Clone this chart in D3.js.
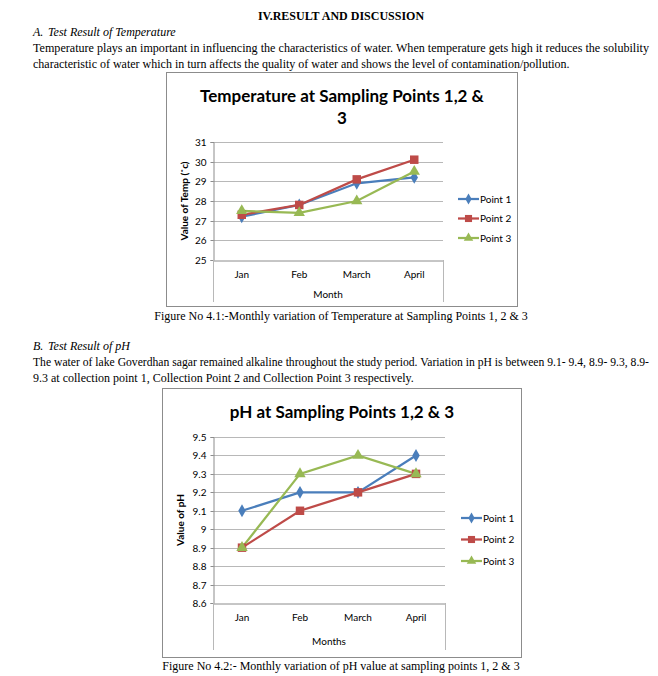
<!DOCTYPE html>
<html>
<head>
  <meta charset="utf-8">
  <script src="https://d3js.org/d3.v7.min.js"></script>
  <style>
    body { margin:0; background:#fff; }
    .doc { font-family: "Liberation Serif", "Times New Roman", serif; fill:#000; }
    .chart text { font-family: Lato, "Open Sans", sans-serif; fill:#000; }
    .grid line { stroke:#b8b8b8; }
  </style>
</head>
<body>
  <script>

    var months = ["Jan", "Feb", "March", "April"];
    var pointNames = ["Point 1", "Point 2", "Point 3"];

    var tempPoint1 = [27.2, 27.8, 28.9, 29.2];
    var tempPoint2 = [27.3, 27.8, 29.1, 30.1];
    var tempPoint3 = [27.5, 27.4, 28.0, 29.5];
    var tempTicks = [25, 26, 27, 28, 29, 30, 31];

    var phPoint1 = [9.1, 9.2, 9.2, 9.4];
    var phPoint2 = [8.9, 9.1, 9.2, 9.3];
    var phPoint3 = [8.9, 9.3, 9.4, 9.3];
    var phTicks = [8.6, 8.7, 8.8, 8.9, 9.0, 9.1, 9.2, 9.3, 9.4, 9.5];

    var colors = ["#4a7ebb", "#be4b48", "#98b954"];
    var symbols = [d3.symbolDiamond, d3.symbolSquare, d3.symbolTriangle];
    var symbolSize = [48, 72, 56];

    var svg = d3.select("body").append("svg")
        .attr("width", 658)
        .attr("height", 676);

    // ---- document text ----
    var doc = svg.append("g").attr("class", "doc");

    doc.append("text").attr("x", 341).attr("y", 20)
        .attr("text-anchor", "middle").style("font-weight", "bold").style("font-size", "12px")
        .text("IV.RESULT AND DISCUSSION");

    function para(y, lines) {
      lines.forEach(function (t, i) {
        var el = doc.append("text").attr("x", 33).attr("y", y + i * 16)
            .style("font-size", "12px").text(t);
        if (i < lines.length - 1) {
          el.attr("textLength", 616).attr("lengthAdjust", "spacingAndGlyphs");
        }
      });
    }
    function sub(y, letter, t) {
      doc.append("text").attr("x", 33).attr("y", y).style("font-size", "12px")
          .style("font-style", "italic").text(letter);
      doc.append("text").attr("x", 48).attr("y", y).style("font-size", "12px")
          .style("font-style", "italic").text(t);
    }

    sub(36, "A.", "Test Result of Temperature");
    para(52, ["Temperature plays an important in influencing the characteristics of water. When temperature gets high it reduces the solubility",
              "characteristic of water which in turn affects the quality of water and shows the level of contamination/pollution."]);

    doc.append("text").attr("x", 341).attr("y", 320).attr("text-anchor", "middle")
        .style("font-size", "12px")
        .text("Figure No 4.1:-Monthly variation of Temperature at Sampling Points 1, 2 & 3");

    sub(350, "B.", "Test Result of pH");
    para(366, ["The water of lake Goverdhan sagar remained alkaline throughout the study period. Variation in pH is between 9.1- 9.4, 8.9- 9.3, 8.9-",
               "9.3 at collection point 1, Collection Point 2 and Collection Point 3 respectively."]);

    doc.append("text").attr("x", 341).attr("y", 670).attr("text-anchor", "middle")
        .style("font-size", "12px")
        .text("Figure No 4.2:- Monthly variation of pH value at sampling points 1, 2 & 3");

    // ---- charts ----
    function drawChart(c) {
      var g = svg.append("g").attr("class", "chart");

      g.append("rect")
          .attr("x", c.frame[0] + 0.5).attr("y", c.frame[1] + 0.5)
          .attr("width", c.frame[2]).attr("height", c.frame[3])
          .attr("fill", "#fff").attr("stroke", "#8c8c8c");

      c.title.forEach(function (t, i) {
        g.append("text").attr("x", c.titleX).attr("y", c.titleY + i * 22)
            .attr("text-anchor", "middle")
            .style("font-weight", "bold").style("font-size", c.titleSize + "px")
            .text(t);
      });

      var x = d3.scaleBand().domain(months).range([c.left, c.right]);
      var y = d3.scaleLinear().domain([c.ticks[0], c.ticks[c.ticks.length - 1]])
          .range([c.bottom, c.top]);

      // gridlines
      g.append("g").attr("class", "grid")
          .selectAll("line").data(c.ticks.slice(1)).enter().append("line")
          .attr("x1", c.left).attr("x2", c.right)
          .attr("y1", function (d) { return Math.round(y(d)) + 0.5; })
          .attr("y2", function (d) { return Math.round(y(d)) + 0.5; });

      var yAxis = d3.axisLeft(y).tickValues(c.ticks).tickSize(3)
          .tickFormat(function (d) { return String(+d.toFixed(1)); });
      var ya = g.append("g")
          .attr("transform", "translate(" + (c.left + 0.5) + ",0)")
          .call(yAxis);
      ya.select(".domain").attr("stroke", "#8c8c8c");
      ya.selectAll(".tick line").attr("stroke", "#8c8c8c");
      ya.selectAll(".tick text").style("font-size", "10px").attr("x", -7);
      ya.selectAll(".tick").attr("transform", function (d) {
        return "translate(0," + (Math.round(y(d)) + 0.5) + ")";
      });

      var xAxis = d3.axisBottom(x).tickSize(0).tickPadding(10);
      var xa = g.append("g")
          .attr("transform", "translate(0," + (Math.round(c.bottom) + 0.5) + ")")
          .call(xAxis);
      xa.select(".domain").attr("stroke", "#8c8c8c");
      xa.selectAll(".tick text").style("font-size", "10px");

      // extended category divider lines
      [c.left, c.right].forEach(function (px) {
        g.append("line").attr("x1", px + 0.5).attr("x2", px + 0.5)
            .attr("y1", c.bottom).attr("y2", c.groupBottom)
            .attr("stroke", "#b8b8b8");
      });

      g.append("text").attr("x", (c.left + c.right) / 2).attr("y", c.xTitleY)
          .attr("text-anchor", "middle").style("font-size", "10px").text(c.xTitle);

      g.append("text")
          .attr("transform", "translate(" + c.yTitleX + "," + ((c.top + c.bottom) / 2) + ") rotate(-90)")
          .attr("text-anchor", "middle").style("font-size", "10px").style("font-weight", "bold")
          .text(c.yTitle);

      var line = d3.line()
          .x(function (d, i) { return x(months[i]) + x.bandwidth() / 2; })
          .y(function (d) { return y(d); });

      c.series.forEach(function (s, k) {
        g.append("path").datum(s)
            .attr("d", line).attr("fill", "none")
            .attr("stroke", colors[k]).attr("stroke-width", 2.25);
      });
      c.series.forEach(function (s, k) {
        g.selectAll(".m" + k).data(s).enter().append("path")
            .attr("class", "m" + k)
            .attr("transform", function (d, i) {
              return "translate(" + (x(months[i]) + x.bandwidth() / 2) + "," + y(d) + ")";
            })
            .attr("d", d3.symbol().type(symbols[k]).size(symbolSize[k]))
            .attr("fill", colors[k]);
      });

      // legend
      pointNames.forEach(function (name, k) {
        var ly = c.legendY + k * c.legendGap;
        g.append("line").attr("x1", c.legendX).attr("x2", c.legendX + 21)
            .attr("y1", ly).attr("y2", ly)
            .attr("stroke", colors[k]).attr("stroke-width", 2.25);
        g.append("path")
            .attr("transform", "translate(" + (c.legendX + 10.5) + "," + ly + ")")
            .attr("d", d3.symbol().type(symbols[k]).size(symbolSize[k] * 0.7))
            .attr("fill", colors[k]);
        g.append("text").attr("x", c.legendX + 22).attr("y", ly + 3.5)
            .style("font-size", "10px").text(name);
      });
    }

    drawChart({
      frame: [166, 72, 351, 234],
      title: ["Temperature at Sampling Points 1,2 &", "3"],
      titleX: 342, titleY: 102, titleSize: 17,
      left: 213, right: 443, top: 142, bottom: 260, groupBottom: 302,
      ticks: tempTicks,
      series: [tempPoint1, tempPoint2, tempPoint3],
      xTitle: "Month", xTitleY: 298,
      yTitle: "Value of Temp (˚c)", yTitleX: 188,
      legendX: 458, legendY: 199, legendGap: 19.5
    });

    drawChart({
      frame: [162, 388, 359, 269],
      title: ["pH at Sampling Points 1,2 & 3"],
      titleX: 342, titleY: 418, titleSize: 17,
      left: 213, right: 445, top: 437, bottom: 603, groupBottom: 650,
      ticks: phTicks,
      series: [phPoint1, phPoint2, phPoint3],
      xTitle: "Months", xTitleY: 645,
      yTitle: "Value of pH", yTitleX: 184,
      legendX: 461, legendY: 518, legendGap: 21.5
    });
  </script>
</body>
</html>
